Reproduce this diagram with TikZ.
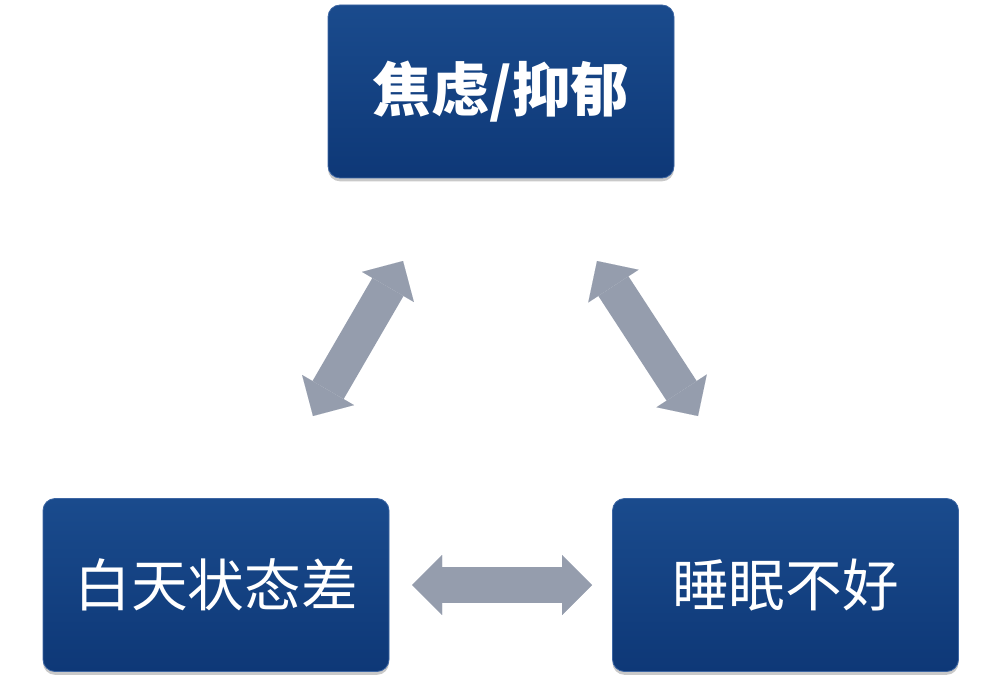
\documentclass[tikz,border=0pt]{standalone}
\usepackage{fontspec}
\newfontfamily\cjk{Noto Sans CJK SC}
\usetikzlibrary{arrows.meta,shadows}
\definecolor{boxtop}{HTML}{1A4B8D}
\definecolor{boxbot}{HTML}{0E3877}
\definecolor{boxedge}{HTML}{3D66A3}
\definecolor{arrowgray}{HTML}{959DAD}
\tikzset{
  stagebox/.style={rounded corners=9pt, minimum width=259.5pt, minimum height=129.75pt,
    top color=boxtop, bottom color=boxbot, draw=boxedge, line width=0.6pt,
    text=white, font=\cjk\fontsize{42.5}{42.5}\selectfont,
    drop shadow={shadow xshift=0pt, shadow yshift=-2.5pt, opacity=0.3, fill=black!70}},
  cycle link/.style={line width=27pt, draw=arrowgray,
    {Triangle[length=22.5pt,width=45pt,line width=0.01pt]}-{Triangle[length=22.5pt,width=45pt,line width=0.01pt]}}
}
\begin{document}
\begin{tikzpicture}[x=0.75pt,y=0.75pt,yscale=-1,xscale=1]
	\useasboundingbox (0,0) rectangle (1002,684);

	\node [stagebox, font=\cjk\bfseries\fontsize{44}{44}\selectfont] (anxiety) at (501,91.5) {焦虑/抑郁};
	\node [stagebox] (daytime) at (216,585) {白天状态差};
	\node [stagebox] (sleep) at (785.5,585) {睡眠不好};

	\coordinate (al) at (313,416);
	\coordinate (ar) at (403,261);
	\coordinate (bl) at (597,261);
	\coordinate (br) at (698,416);
	\coordinate (cl) at (412,585);
	\coordinate (cr) at (592,585);

	\draw [cycle link] (al) -- (ar);
	\draw [cycle link] (bl) -- (br);
	\draw [cycle link] (cl) -- (cr);
\end{tikzpicture}
\end{document}
